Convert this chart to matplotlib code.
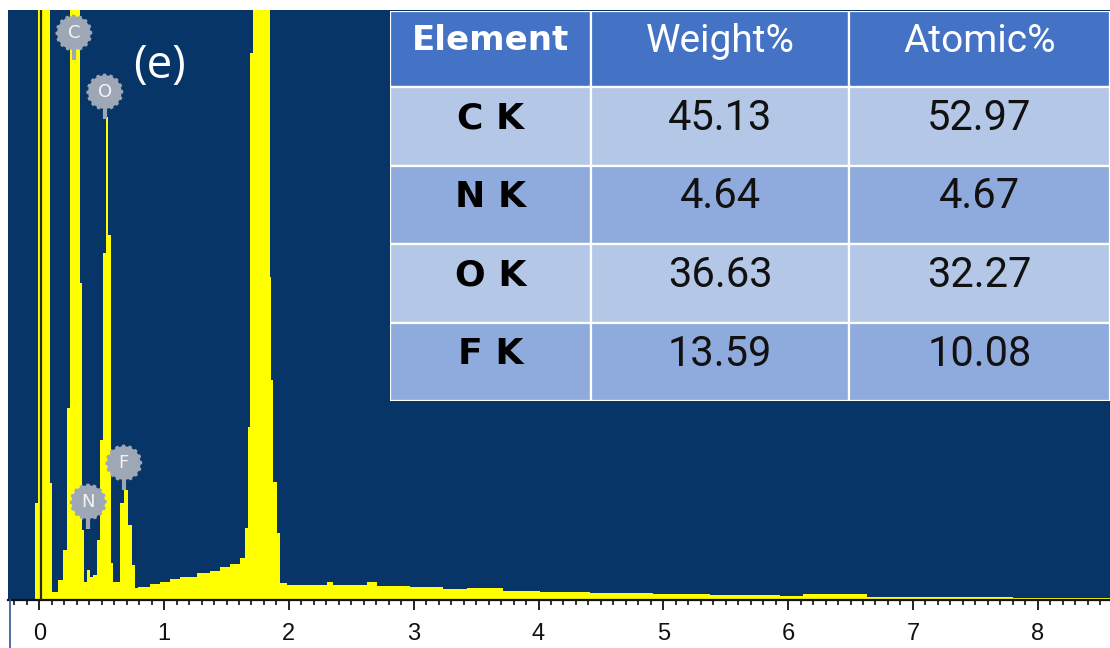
import numpy as np
import matplotlib
matplotlib.use("Agg")
import matplotlib.pyplot as plt
from matplotlib.path import Path
from matplotlib.patches import Rectangle
from matplotlib.lines import Line2D
from matplotlib.ticker import MultipleLocator

# ---------------- data ----------------
# step spectrum: bin edges (keV) and counts per bin
edges = [-0.251, -0.034, -0.013, 0.086, 0.099, 0.150, 0.190, 0.222, 0.246, 0.326,
         0.342, 0.354, 0.382, 0.406, 0.430, 0.462, 0.486, 0.510, 0.534, 0.550,
         0.575, 0.591, 0.647, 0.679, 0.711, 0.739, 0.767, 0.791, 0.887, 0.968,
         1.047, 1.127, 1.264, 1.368, 1.448, 1.528, 1.608, 1.648, 1.672, 1.688,
         1.710, 1.849, 1.857, 1.873, 1.902, 1.929, 1.985, 2.305, 2.353, 2.626,
         2.706, 2.970, 3.235, 3.427, 3.715, 4.011, 4.413, 4.918, 5.374, 5.935,
         6.119, 6.632, 7.802, 8.579]
counts = [0, 97, 600, 117, 8, 20, 50, 192, 600, 317,
          70, 18, 30, 23, 25, 60, 160, 347, 483, 365,
          37, 18, 97, 110, 75, 35, 12, 13, 16, 18,
          21, 23, 27, 29, 33, 36, 42, 72, 173, 547,
          600, 323, 220, 118, 67, 17, 15, 18, 15, 18,
          14, 13, 11, 12, 9, 8, 7, 6, 5, 4.5,
          6, 3, 2]

zero_marker_keV = 0.01

marker_labels = ['C', 'N', 'O', 'F']
marker_energy = [0.277, 0.392, 0.525, 0.677]
marker_height = [567, 98, 508, 137]

x_ticks = [0, 1, 2, 3, 4, 5, 6, 7, 8]

table_header = ['Element', 'Weight%', 'Atomic%']
elements = ['C K', 'N K', 'O K', 'F K']
weight_pct = ['45.13', '4.64', '36.63', '13.59']
atomic_pct = ['52.97', '4.67', '32.27', '10.08']

# ---------------- figure ----------------
W, H = 1110, 648
fig = plt.figure(figsize=(W / 100, H / 100), dpi=100, facecolor='white')
ax = fig.add_axes([8 / W, 1 - 600 / H, 1102 / W, 590 / H])
ax.set_facecolor('#073568')

ax.fill_between(edges, list(counts) + [counts[-1]], step='post', color='#ffff00',
                linewidth=0, zorder=2)
ax.axvline(zero_marker_keV, color='#2a2a18', lw=1.6, zorder=3)

ax.set_xlim(edges[0], edges[-1])
ax.set_ylim(0, 590)

for s in ['left', 'top', 'right']:
    ax.spines[s].set_visible(False)
ax.spines['bottom'].set_color('#111111')
ax.spines['bottom'].set_linewidth(1.6)
ax.set_yticks([])
ax.set_xticks(x_ticks)
ax.set_xticklabels([str(t) for t in x_ticks], fontfamily='Liberation Sans')
ax.xaxis.set_minor_locator(MultipleLocator(0.1))
ax.tick_params(axis='x', which='major', direction='out', length=7.5, width=1.3,
               pad=9, labelsize=17, colors='#111111')
ax.tick_params(axis='x', which='minor', direction='out', length=3.8, width=1.2,
               colors='#111111')

# left border line of the white strip below the axis
fig.add_artist(Line2D([9.5 / W, 9.5 / W], [0, 48 / H], color='#2f5597', lw=1.2))

# element markers (gear shaped)
th = np.linspace(0, 2 * np.pi, 193)
rr = np.where(np.cos(16 * th) > 0, 1.0, 0.91)
gear = Path(np.column_stack([rr * np.cos(th), rr * np.sin(th)]))
mcol = '#9ea7b6'
for lab, e, h in zip(marker_labels, marker_energy, marker_height):
    ax.vlines(e, h - 27, h - 14, color=mcol, lw=3, zorder=4)
    ax.scatter([e], [h], s=700, marker=gear, color=mcol, edgecolors='none', zorder=5)
    ax.text(e, h, lab, color='#f4f4f4', fontsize=13, ha='center', va='center',
            family='DejaVu Sans', zorder=6)

ax.text(0.1375, 0.905, '(e)', transform=ax.transAxes, color='white', fontsize=33,
        family='Open Sans', ha='center', va='center')

# ---------------- table ----------------
axt = fig.add_axes([390 / W, 1 - 401 / H, 720 / W, 390 / H])
axt.set_xlim(0, 720)
axt.set_ylim(390, 0)
axt.axis('off')
col_edges = [0, 201, 459, 720]
row_edges = [0, 76, 155, 233, 312, 390]
row_colors = ['#4472c4', '#b4c7e7', '#8faadc', '#b4c7e7', '#8faadc']

rows = [table_header] + [[a, b, c] for a, b, c in zip(elements, weight_pct, atomic_pct)]
for i, row in enumerate(rows):
    y0, y1 = row_edges[i], row_edges[i + 1]
    for j, txt in enumerate(row):
        x0, x1 = col_edges[j], col_edges[j + 1]
        axt.add_patch(Rectangle((x0, y0), x1 - x0, y1 - y0, facecolor=row_colors[i],
                                edgecolor='white', lw=1.6))
        cx, cy = (x0 + x1) / 2, (y0 + y1) / 2 - 8
        if i == 0:
            if j == 0:
                axt.text(cx, cy, txt, color='white', fontsize=24.5, fontweight='bold',
                         family='DejaVu Sans', ha='center', va='center')
            else:
                axt.text(cx, cy, txt, color='white', fontsize=28, fontweight='normal',
                         family='Roboto', ha='center', va='center')
        else:
            if j == 0:
                axt.text(cx, cy, txt, color='black', fontsize=26, fontweight='bold',
                         family='DejaVu Sans', ha='center', va='center')
            else:
                axt.text(cx, cy, txt, color='#111111', fontsize=30, fontweight='normal',
                         family='Roboto', ha='center', va='center')

fig.savefig('out.png', dpi=100, facecolor='white')
